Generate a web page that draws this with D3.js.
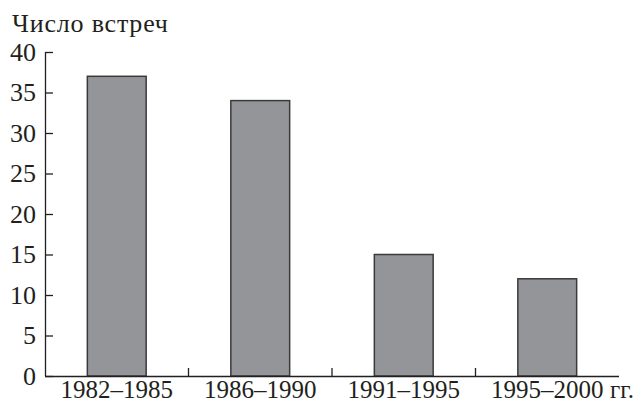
<!DOCTYPE html>
<html><head><meta charset="utf-8">
<script src="https://cdn.jsdelivr.net/npm/d3@7"></script>
<style>body{margin:0;background:#fff;} svg text{font-family:'Liberation Serif' !important;}</style>
</head><body>
<svg id="chart" width="642" height="405" font-family="Liberation Serif"></svg>
<script>
const categories = ["1982–1985", "1986–1990", "1991–1995", "1995–2000"];
const values = [37, 34, 15, 12];
const yTicks = [0, 5, 10, 15, 20, 25, 30, 35, 40];
const yTitle = "Число встреч";
const xUnit = "гг.";

const svg = d3.select("#chart");
const x = d3.scaleBand().domain(categories).range([45, 619]).paddingInner(0.59).paddingOuter(0.295);
const y = d3.scaleLinear().domain([0, 40]).range([376, 52]);
const ink = "#231f20";

function txt(sel, size) {
  return sel.attr("font-family", "Liberation Serif").style("font-size", (size || 25) + "px").attr("fill", ink);
}

// bars
svg.selectAll("rect.bar").data(categories).enter().append("rect")
  .attr("class", "bar")
  .attr("x", d => x(d))
  .attr("width", x.bandwidth())
  .attr("y", (d, i) => y(values[i]))
  .attr("height", (d, i) => y(0) - y(values[i]))
  .attr("fill", "#939598").attr("stroke", "#3a3a3c").attr("stroke-width", 1.5);

// y axis
const yAxis = d3.axisRight(y).tickValues(yTicks).tickSize(8).tickFormat("");
const gy = svg.append("g").attr("transform", "translate(45,0)").call(yAxis);
gy.select(".domain").attr("stroke", ink).attr("stroke-width", 1.3).attr("d", `M0.5,${y(40)}V${y(0)}`);
gy.selectAll(".tick line").attr("stroke", ink).attr("stroke-width", 1.3);
txt(svg.selectAll("text.ylab").data(yTicks).enter().append("text")
  .attr("class", "ylab").attr("x", 36).attr("y", d => y(d) + 8.5)
  .attr("text-anchor", "end").text(d => d), 26);

// x axis
const step = x.step();
const bounds = categories.slice(1).map(c => x(c) - (step - x.bandwidth()) / 2);
svg.append("line").attr("x1", 45).attr("x2", 619).attr("y1", y(0) + 0.5).attr("y2", y(0) + 0.5)
  .attr("stroke", ink).attr("stroke-width", 1.3);
svg.selectAll("line.xt").data(bounds).enter().append("line").attr("class", "xt")
  .attr("x1", d => d).attr("x2", d => d).attr("y1", y(0)).attr("y2", y(0) - 8)
  .attr("stroke", ink).attr("stroke-width", 1.3);
txt(svg.selectAll("text.xlab").data(categories).enter().append("text")
  .attr("class", "xlab").attr("x", d => x(d) + x.bandwidth() / 2).attr("y", 398)
  .attr("text-anchor", "middle").text(d => d));
txt(svg.append("text").attr("x", 610).attr("y", 398).text(xUnit));

// title
txt(svg.append("text").attr("x", 12).attr("y", 32).style("letter-spacing", "0.8px").text(yTitle), 26);
</script>
</body></html>
